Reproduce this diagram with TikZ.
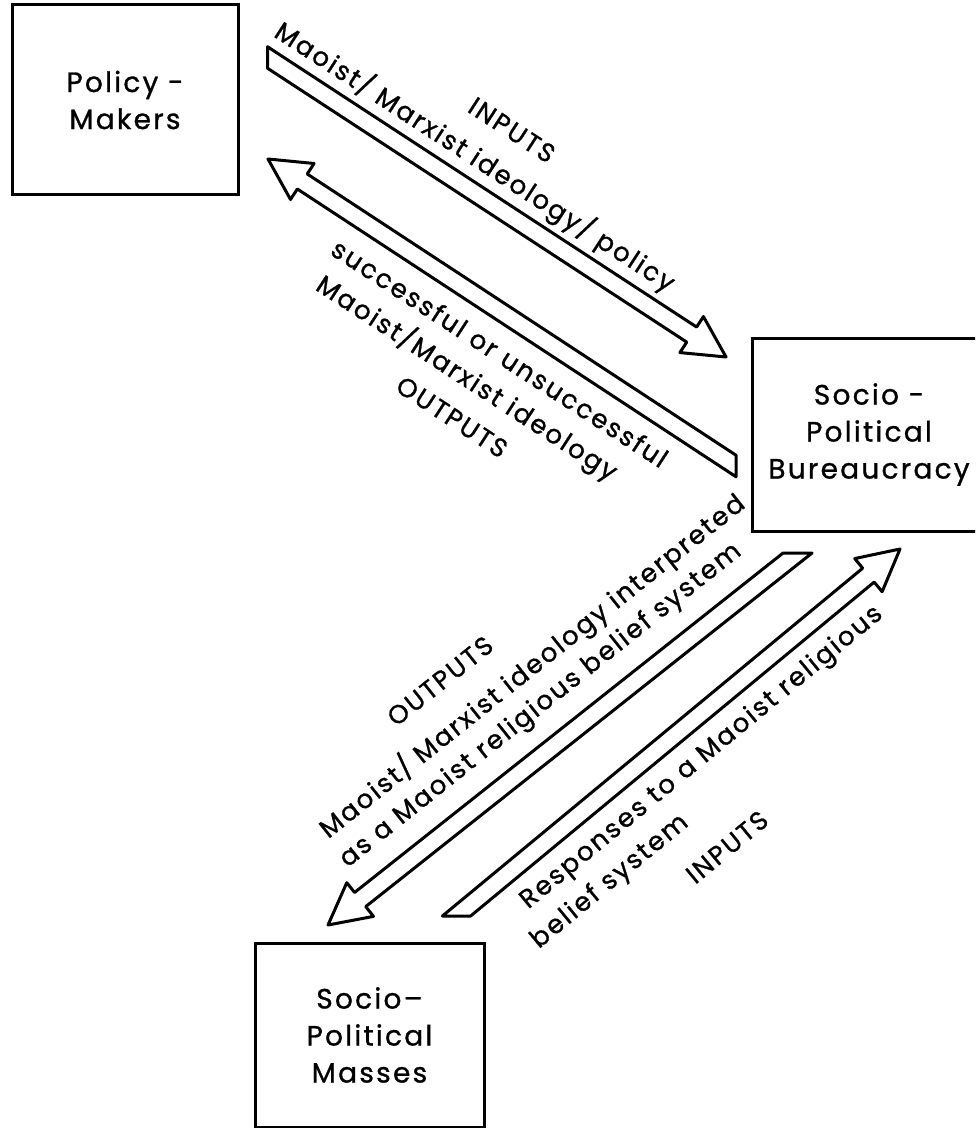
\documentclass[tikz,border=0pt]{standalone}
\usepackage{fontspec}
\setmainfont{Poppins}[LetterSpace=8, FakeBold=1]
\usetikzlibrary{calc}

\newcommand{\arrshaft}{4.5pt}
\newcommand{\arrhead}{10.75pt}
\newcommand{\arrheadlen}{20.5pt}
% hollow fat arrow: tail #1, tip #2, tail cut along #1--#3
\newcommand{\fatarrow}[3]{%
  \coordinate (#1h) at ($(#2)!\arrheadlen!(#1)$);
  \coordinate (#1l) at ($(#1)!\arrshaft!90:(#2)$);
  \coordinate (#1r) at ($(#1)!\arrshaft!-90:(#2)$);
  \coordinate (#1hl) at ($(#1h)!\arrshaft!90:(#2)$);
  \coordinate (#1hr) at ($(#1h)!\arrshaft!-90:(#2)$);
  \draw[fat] (intersection of #1l--#1hl and #1--#3) -- (#1hl)
    -- ($(#1h)!\arrhead!90:(#2)$) -- (#2) -- ($(#1h)!\arrhead!-90:(#2)$)
    -- (#1hr) -- (intersection of #1r--#1hr and #1--#3) -- cycle;
}

\begin{document}
\begin{tikzpicture}[x=0.5pt, y=-0.5pt,
    box/.style={draw, line width=1.5pt, align=center, inner sep=0pt,
                font=\fontsize{14}{18.5}\selectfont},
    lbl/.style={inner sep=0pt, font=\fontsize{13}{16}\selectfont},
    fat/.style={draw, line width=1.5pt, line join=round, fill=white}
  ]
  \useasboundingbox (0,0) rectangle (975,1128);
  \clip (0,0) rectangle (975,1128);

  \node[box, minimum width=113pt, minimum height=95pt] (pm) at (125,100) {Policy -\\Makers};
  \node[box, minimum width=117pt, minimum height=96.5pt] (bur) at (869,434.5) {Socio -\\Political\\Bureaucracy};
  \node[box, minimum width=114.5pt, minimum height=92pt] (mas) at (369.5,1035) {Socio–\\Political\\Masses};

  % arrow ends
  \coordinate (a1t) at (267.5,57.5);  \coordinate (a1e) at (726,357);  \coordinate (a1c) at (267.5,0);
  \coordinate (a2t) at (736,466);     \coordinate (a2e) at (268,159);  \coordinate (a2c) at (736,0);
  \coordinate (a3t) at (797.5,553);   \coordinate (a3e) at (328,925);  \coordinate (a3c) at (0,553);
  \coordinate (a4t) at (456.5,916);   \coordinate (a4e) at (900,549);  \coordinate (a4c) at (0,916);

  \fatarrow{a1t}{a1e}{a1c}
  \fatarrow{a2t}{a2e}{a2c}
  \fatarrow{a3t}{a3e}{a3c}
  \fatarrow{a4t}{a4e}{a4c}

  % policy-makers <-> bureaucracy
  \node[lbl, rotate=-33] (in1) at (512,130) {INPUTS};
  \node[lbl, rotate=-33] (in1a) at (475,157) {Maoist/ Marxist ideology/ policy};
  \node[lbl, rotate=-33] (out1a) at (500,353) {successful or unsuccessful};
  \node[lbl, rotate=-33] (out1b) at (467,378) {Maoist/Marxist ideology};
  \node[lbl, rotate=-33] (out1) at (452,417) {OUTPUTS};

  % bureaucracy <-> masses
  \node[lbl, rotate=38.5] (out2) at (440,681) {OUTPUTS};
  \node[lbl, rotate=38.5] (out2a) at (532,666) {Maoist/ Marxist ideology interpreted};
  \node[lbl, rotate=38.5] (out2b) at (541,706) {as a Maoist religious belief system};
  \node[lbl, rotate=39.5] (in2a) at (702,758) {Responses to a Maoist religious};
  \node[lbl, rotate=39.5] (in2b) at (610,882) {belief system};
  \node[lbl, rotate=39.5] (in2) at (727,847) {INPUTS};
\end{tikzpicture}
\end{document}
